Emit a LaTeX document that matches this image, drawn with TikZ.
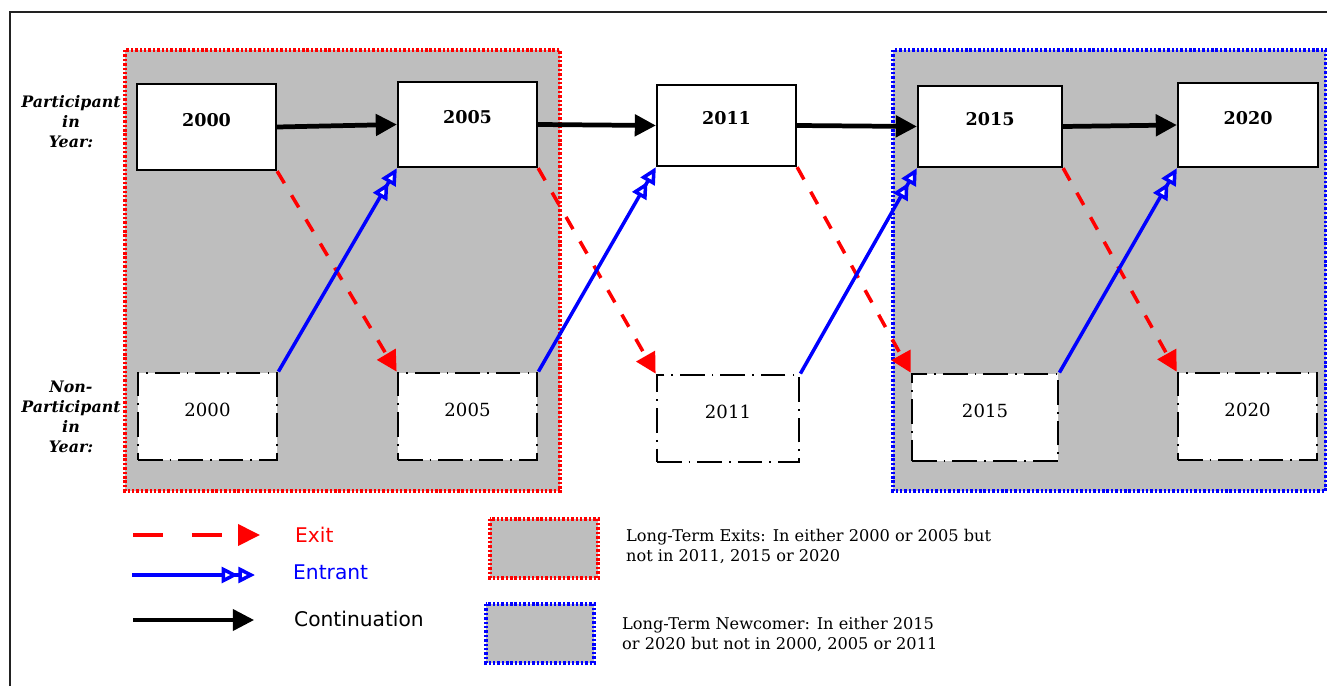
\documentclass[tikz,border=0pt]{standalone}
\usepackage{fontspec}
\setmainfont{DejaVu Serif}
\setsansfont{DejaVu Sans}
\usetikzlibrary{arrows.meta}
\definecolor{regiongray}{RGB}{190,190,190}
\definecolor{framegray}{RGB}{34,34,34}
\definecolor{exitred}{RGB}{255,0,0}
\definecolor{entblue}{RGB}{0,0,255}
\begin{document}
\begin{tikzpicture}[x=0.02cm,y=-0.02cm,
  region/.style={fill=regiongray, line width=2.1pt, dash pattern=on 1.4pt off 1.1pt},
  sz/.style 2 args={minimum width=#1cm, minimum height=#2cm},
  topbox/.style={draw=black, fill=white, line width=1.3pt, inner sep=0pt},
  botbox/.style={draw=black, fill=white, line width=1.6pt, dash pattern=on 14pt off 4pt on 1pt off 4pt, inner sep=0pt},
  toptext/.style={label={[yshift=0.14cm, font=\bfseries\fontsize{10}{12}\selectfont]center:#1}},
  bottext/.style={label={[yshift=0.14cm, font=\fontsize{10.3}{12}\selectfont]center:#1}},
  sidelabel/.style={align=center, font=\bfseries\itshape\fontsize{9}{11.4}\selectfont},
  legtext/.style={anchor=west, font=\sffamily\fontsize{11.5}{13}\selectfont},
  legdesc/.style={anchor=west, align=left, font=\fontsize{9.2}{11.4}\selectfont},
  contarrow/.style={line width=2.7pt, -{Triangle[length=12pt,width=12pt]}},
  exitarrow/.style={exitred, line width=2pt, dash pattern=on 8pt off 8pt, -{Triangle[length=11.5pt,width=12pt]}},
  entarrow/.style={entblue, line width=2pt, -{Triangle[length=9.5pt,width=9pt,fill=white] Triangle[length=9.5pt,width=9pt,fill=white]}}
]
\useasboundingbox (0,0) rectangle (1327,686);
% outer frame
\draw[framegray, line width=1.2pt] (10,686) -- (10,12) -- (1327,12);
% shaded regions
\draw[region, draw=exitred] (125,50) rectangle (560,491);
\draw[region, draw=entblue] (893,50) rectangle (1326,491);
% side labels
\node[sidelabel] (lp) at (71,122) {Participant\\in\\Year:};
\node[sidelabel] (ln) at (71,417) {Non-\\Participant\\in\\Year:};
% participant boxes
\node[topbox, sz={2.78}{1.72}, toptext=2000] (t1) at (206.5,127) {};
\node[topbox, sz={2.78}{1.70}, toptext=2005] (t2) at (467.5,124.5) {};
\node[topbox, sz={2.78}{1.62}, toptext=2011] (t3) at (726.5,125.5) {};
\node[topbox, sz={2.88}{1.62}, toptext=2015] (t4) at (990,126.5) {};
\node[topbox, sz={2.80}{1.68}, toptext=2020] (t5) at (1248,125) {};
% non-participant boxes
\node[botbox, sz={2.78}{1.74}, bottext=2000] (b1) at (207.5,416.5) {};
\node[botbox, sz={2.78}{1.74}, bottext=2005] (b2) at (467.5,416.5) {};
\node[botbox, sz={2.84}{1.74}, bottext=2011] (b3) at (728,418.5) {};
\node[botbox, sz={2.92}{1.74}, bottext=2015] (b4) at (985,417.5) {};
\node[botbox, sz={2.78}{1.74}, bottext=2020] (b5) at (1247.5,416.5) {};
% continuation
\draw[contarrow] (t1.east) -- (t2.west);
\draw[contarrow] (t2.east) -- (t3.west);
\draw[contarrow] (t3.east) -- (t4.west);
\draw[contarrow] (t4.east) -- (t5.west);
% exits
\draw[exitarrow] (t1.south east) -- (b2.north west);
\draw[exitarrow] (t2.south east) -- (b3.north west);
\draw[exitarrow] (t3.south east) -- (b4.north west);
\draw[exitarrow] (t4.south east) -- (b5.north west);
% entrants
\draw[entarrow] (b1.north east) -- (t2.south west);
\draw[entarrow] (b2.north east) -- (t3.south west);
\draw[entarrow] (b3.north east) -- (t4.south west);
\draw[entarrow] (b4.north east) -- (t5.south west);
% legend: arrows
\coordinate (lexA) at (133,535);
\coordinate (lexB) at (260,535);
\coordinate (lenA) at (132,575);
\coordinate (lenB) at (255,575);
\coordinate (lcoA) at (133,620);
\coordinate (lcoB) at (254,620);
\draw[exitred, line width=2pt, dash pattern=on 17pt off 16.5pt, -{Triangle[length=12.5pt,width=12pt]}] (lexA) -- (lexB);
\draw[entarrow] (lenA) -- (lenB);
\draw[line width=2pt, -{Triangle[length=12pt,width=12pt]}] (lcoA) -- (lcoB);
\node[legtext, text=exitred] (lexT) at (289,535) {Exit};
\node[legtext, text=entblue] (lenT) at (287,572) {Entrant};
\node[legtext] (lcoT) at (288,619) {Continuation};
% legend: regions
\draw[region, draw=exitred] (490,519) rectangle (598,578);
\draw[region, draw=entblue] (486,604) rectangle (594,663);
\node[legdesc] (ldA) at (620,546) {Long-Term Exits: In either 2000 or 2005 but\\not in 2011, 2015 or 2020};
\node[legdesc] (ldB) at (616,634) {Long-Term Newcomer: In either 2015\\or 2020 but not in 2000, 2005 or 2011};
\end{tikzpicture}
\end{document}
